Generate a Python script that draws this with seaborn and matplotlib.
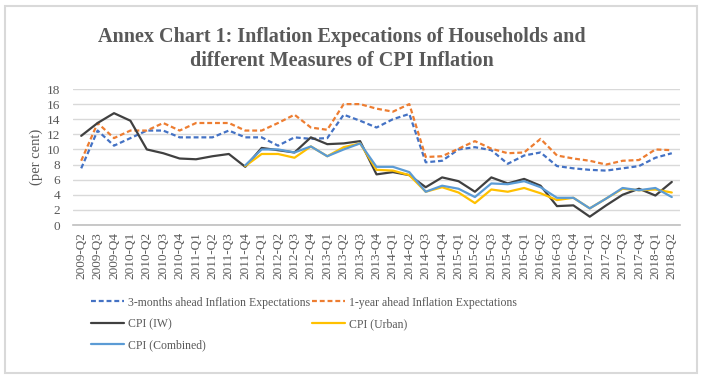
import numpy as np
import pandas as pd
import matplotlib.pyplot as plt
from matplotlib.patches import Rectangle
import seaborn as sns

nan = np.nan

quarters = [f"{y}-Q{q}" for y in range(2009, 2019) for q in range(1, 5)]
quarters = quarters[1:quarters.index("2018-Q2") + 1]

three_month = [7.5, 12.5, 10.5, 11.5, 12.5, 12.5, 11.6, 11.6, 11.6, 12.5, 11.6, 11.6, 10.5,
               11.6, 11.4, 11.5, 14.6, 13.8, 12.9, 14.0, 14.7, 8.3, 8.5, 10.0, 10.3, 9.9,
               8.1, 9.2, 9.6, 7.8, 7.5, 7.3, 7.2, 7.5, 7.8, 8.9, 9.5]
one_year = [8.5, 13.5, 11.5, 12.5, 12.5, 13.5, 12.5, 13.5, 13.5, 13.5, 12.5, 12.5, 13.5,
            14.6, 12.9, 12.6, 16.0, 16.0, 15.4, 15.0, 16.0, 9.0, 9.1, 10.1, 11.1, 10.1,
            9.5, 9.6, 11.4, 9.2, 8.8, 8.5, 8.0, 8.5, 8.6, 10.0, 9.9]
cpi_iw = [11.8, 13.5, 14.8, 13.8, 10.0, 9.5, 8.8, 8.7, 9.1, 9.4, 7.7, 10.2, 9.9, 9.6,
          11.6, 10.7, 10.8, 11.1, 6.7, 7.0, 6.6, 5.0, 6.3, 5.8, 4.4, 6.3, 5.5, 6.1, 5.2,
          2.5, 2.6, 1.1, 2.6, 4.0, 4.8, 3.9, 5.7]
cpi_urban = [nan] * 10 + [7.8, 9.4, 9.4, 8.9, 10.4, 9.1, 10.3, 10.8, 7.3, 7.2, 6.6, 4.4,
                          5.0, 4.3, 2.9, 4.7, 4.4, 4.9, 4.2, 3.3, 3.6, 2.2, 3.5, 4.8,
                          4.6, 4.7, 4.3]
cpi_combined = [nan] * 10 + [7.9, 10.0, 10.0, 9.6, 10.4, 9.1, 10.0, 10.8, 7.7, 7.7, 7.0,
                             4.4, 5.2, 4.8, 3.7, 5.5, 5.4, 5.8, 5.0, 3.6, 3.6, 2.2, 3.5,
                             4.9, 4.6, 4.9, 3.7]

series = [
    ("3-months ahead Inflation Expectations", three_month, "#4472C4", (2.2, 1.3)),
    ("1-year ahead Inflation Expectations", one_year, "#ED7D31", (2.2, 1.3)),
    ("CPI (IW)", cpi_iw, "#404040", None),
    ("CPI (Urban)", cpi_urban, "#FFC000", None),
    ("CPI (Combined)", cpi_combined, "#5B9BD5", None),
]

sns.set_style("white")
plt.rcParams["font.family"] = ["Liberation Serif", "DejaVu Serif"]
grey = "#595959"

fig = plt.figure(figsize=(7.04, 3.78), dpi=100)
ax = fig.add_axes([73 / 704, 1 - 225 / 378, 607 / 704, 136 / 378])

x = np.arange(len(quarters))
handles = {}
for name, vals, col, dash in series:
    df = pd.DataFrame({"x": x, "y": vals}).dropna()
    sns.lineplot(data=df, x="x", y="y", ax=ax, color=col, linewidth=1.6, label=name)
    line = ax.lines[-1]
    if dash:
        line.set_dashes(dash)
    handles[name] = line

ax.set_xlim(-0.5, len(quarters) - 0.5)
ax.set_ylim(0, 18)
ax.set_yticks(range(0, 19, 2))
ax.set_xticks(x)
ax.set_xticklabels(quarters, rotation=90)
ax.tick_params(axis="x", length=0, pad=5, labelsize=9.5, labelcolor=grey)
ax.tick_params(axis="y", length=0, pad=9, labelsize=9.5, labelcolor=grey)
ax.set_xlabel("")
ax.set_ylabel("(per cent)", fontsize=10.5, color=grey, labelpad=3)
ax.grid(axis="y", color="#d9d9d9", linewidth=1)
ax.set_axisbelow(True)
for s in ["top", "right", "left"]:
    ax.spines[s].set_visible(False)
ax.spines["bottom"].set_color("#bfbfbf")
ax.spines["bottom"].set_linewidth(1.2)

ax.get_legend().remove()
order = ["3-months ahead Inflation Expectations", "CPI (IW)", "CPI (Combined)",
         "1-year ahead Inflation Expectations", "CPI (Urban)"]
fig.legend([handles[n] for n in order], order, loc="upper left",
           bbox_to_anchor=(80 / 704, 1 - 286 / 378), ncol=2, frameon=False,
           fontsize=8.5, labelcolor=grey, handlelength=2.8, handletextpad=0.4,
           labelspacing=0.8, columnspacing=0.1)

fig.text(342 / 704, 1 - 49 / 378,
         "Annex Chart 1: Inflation Expecations of Households and\ndifferent Measures of CPI Inflation",
         ha="center", va="center", fontsize=14.5, fontweight="bold", color=grey,
         linespacing=1.3)

fig.patches.append(Rectangle((5 / 704, 5 / 378), 692 / 704, 367 / 378,
                             transform=fig.transFigure, fill=False,
                             edgecolor="#d9d9d9", linewidth=1.5))

fig.savefig("out.png", dpi=100)
